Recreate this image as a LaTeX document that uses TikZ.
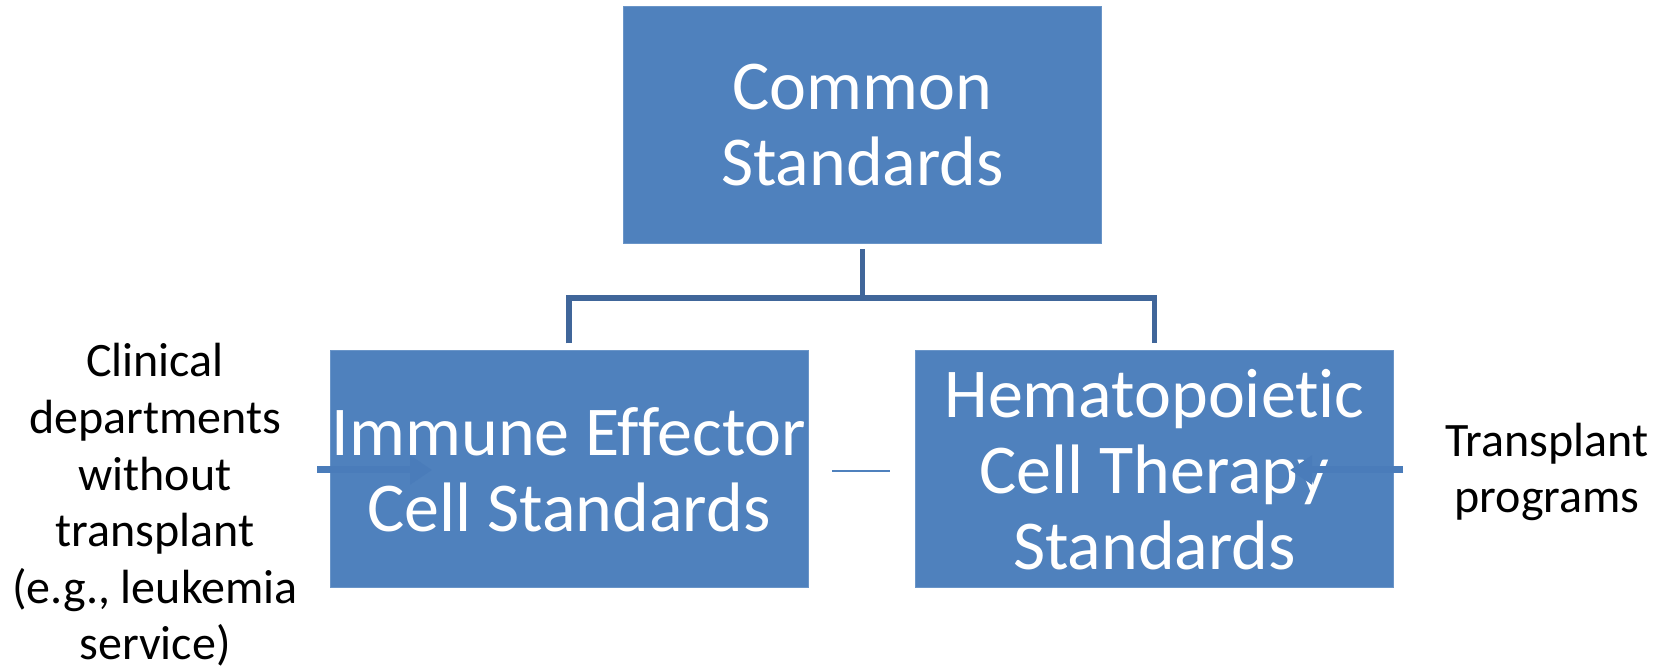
\documentclass[tikz,border=0pt]{standalone}
\usepackage{fontspec}
\setmainfont[Ligatures=NoCommon]{Carlito}
\usetikzlibrary{arrows.meta}
\definecolor{boxblue}{HTML}{4F81BD}
\definecolor{boxedge}{HTML}{6A95C8}
\definecolor{connblue}{HTML}{40669A}
\definecolor{arrblue}{HTML}{4A7CBA}
\tikzset{
  stdbox/.style={rectangle, fill=boxblue, draw=boxedge, line width=0.5pt,
    minimum width=239pt, minimum height=118.5pt, inner sep=0pt,
    text=white, align=center, font=\fontsize{35}{38}\selectfont},
  sidelabel/.style={text=black, align=center, inner sep=0pt,
    font=\fontsize{24}{28.3}\selectfont},
  conn/.style={draw=connblue, line width=2.6pt},
  flow/.style={draw=arrblue, line width=3.5pt, -{Triangle[length=11pt,width=14pt]}},
  thin/.style={draw=boxblue, line width=1pt}
}
\begin{document}
\begin{tikzpicture}[x=0.5pt,y=-0.5pt]
\useasboundingbox (0,0) rectangle (1660,672);
\node[stdbox] (top) at (862.5,125.5) {Common\\Standards};
\node[stdbox] (ieb) at (569,469.5) {Immune Effector\\Cell Standards};
\node[stdbox] (hcb) at (1154.5,469.5) {Hematopoietic\\Cell Therapy\\Standards};
\node[sidelabel] (left) at (155,505) {Clinical\\departments\\without\\transplant\\(e.g., leukemia\\service)};
\node[sidelabel] (right) at (1547,472) {Transplant\\programs};
\coordinate (j) at (862.5,298);
\draw[conn] ([yshift=-2.5pt]top.south) -- (j);
\draw[conn] ([yshift=3.5pt]ieb.north) |- (j) -| ([yshift=3.5pt]hcb.north);
\coordinate (la) at (317,470);
\coordinate (lt) at (432,470);
\coordinate (ra) at (1403,470);
\coordinate (rt) at (1290,470);
\draw[flow] (la) -- (lt);
\draw[flow] (ra) -- (rt);
\coordinate (m1) at (832,471);
\coordinate (m2) at (890,471);
\draw[thin] (m1) -- (m2);
\end{tikzpicture}
\end{document}
